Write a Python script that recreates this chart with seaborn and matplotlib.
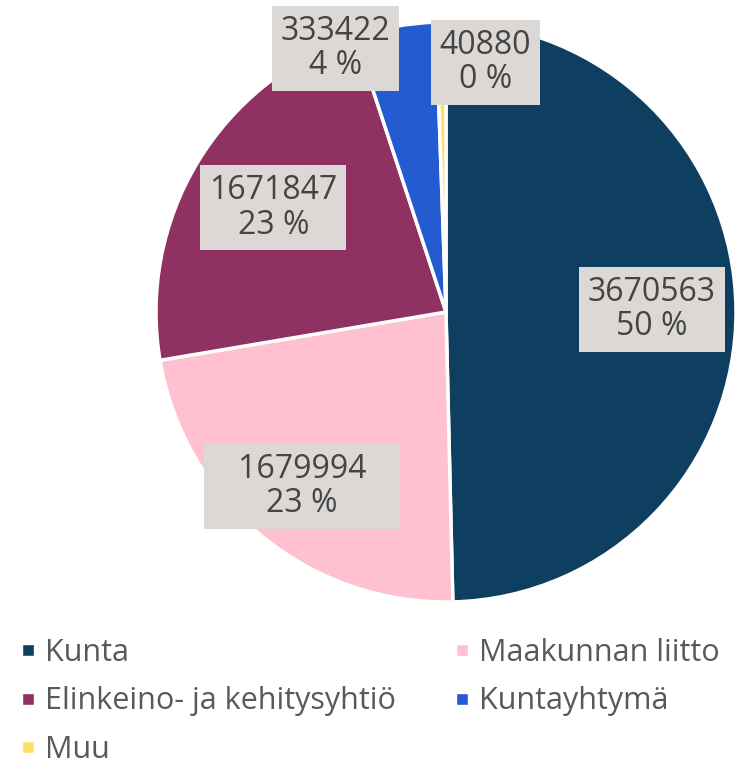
import matplotlib
matplotlib.use("Agg")
import numpy as np
import matplotlib.pyplot as plt
import seaborn as sns
from matplotlib.lines import Line2D

# Data
categories = ["Kunta", "Maakunnan liitto", "Elinkeino- ja kehitysyhtiö", "Kuntayhtymä", "Muu"]
values = [3670563, 1679994, 1671847, 333422, 40880]
colors = ["#0f3f60", "#ffc0cf", "#8f3262", "#245bd1", "#ffe066"]
pct_labels = ["50 %", "23 %", "23 %", "4 %", "0 %"]

sns.set_theme(style="white")
plt.rcParams["font.family"] = ["Open Sans", "DejaVu Sans"]

W, H = 745, 778
fig = plt.figure(figsize=(W / 100, H / 100), dpi=100)
cx, cy, r = 446, 312, 290
ax = fig.add_axes([(cx - r) / W, (H - cy - r) / H, 2 * r / W, 2 * r / H])

wedges, texts = ax.pie(
    values,
    colors=colors,
    startangle=90,
    counterclock=False,
    wedgeprops=dict(edgecolor="white", linewidth=2.5),
    labels=[f"{v}\n{p}" for v, p in zip(values, pct_labels)],
)
ax.set_xlim(-1, 1)
ax.set_ylim(-1, 1)
ax.set_aspect("equal")

# label placement: along the slice middle, small slices moved up out of the way
dist = [0.71, 0.78, 0.695]
for i, (t, w) in enumerate(zip(texts, wedges)):
    t.set_ha("center")
    t.set_va("center")
    t.set_fontsize(23)
    t.set_color("#444444")
    t.set_linespacing(1.05)
    t.set_bbox(dict(facecolor="#dcd8d5", edgecolor="none", boxstyle="square,pad=0.28"))
    if i < len(dist):
        th = np.deg2rad((w.theta1 + w.theta2) / 2)
        t.set_position((dist[i] * np.cos(th), dist[i] * np.sin(th)))
texts[1].set_text(f"   {values[1]}   \n{pct_labels[1]}")
texts[3].set_position((-0.381, 0.909))
texts[4].set_position((0.136, 0.86))

order = [0, 2, 4, 1, 3]
handles = [Line2D([0], [0], marker="s", color="w", markerfacecolor=colors[i], markersize=8, linestyle="none")
           for i in order]
leg = fig.legend(
    handles, [categories[i] for i in order],
    loc="upper left",
    bbox_to_anchor=(0.03, 1 - 638 / H),
    ncol=2,
    frameon=False,
    fontsize=22,
    handlelength=0.4,
    handletextpad=0.35,
    columnspacing=1.95,
    labelspacing=0.6,
    borderpad=0,
    borderaxespad=0,
)
for t in leg.get_texts():
    t.set_color("#595959")

fig.savefig("out.png", dpi=100, facecolor="white")
